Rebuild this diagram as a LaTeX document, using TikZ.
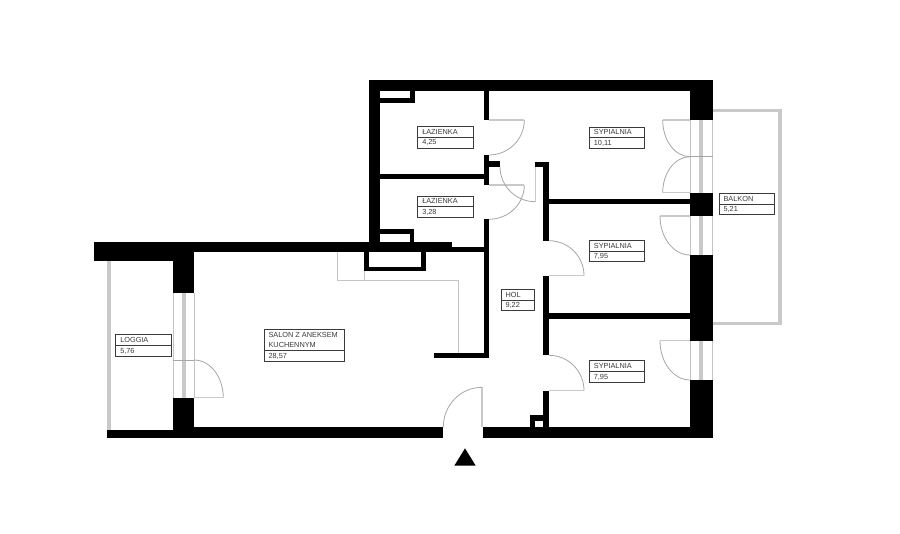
\documentclass[tikz,border=0pt]{standalone}
\usepackage{fontspec}
\setmainfont{Liberation Sans}
\definecolor{railgray}{HTML}{C9C9C9}
\definecolor{arcgray}{HTML}{A6A6A6}
\definecolor{thingray}{HTML}{C4C4C4}
\definecolor{tagink}{HTML}{3A3A3A}
\tikzset{
  wall/.style={fill=black,draw=none},
  rail/.style={fill=railgray,draw=none},
  leaf/.style={draw=railgray,line width=1.1pt},
  swing/.style={draw=arcgray,line width=0.6pt},
  thinline/.style={draw=thingray,line width=0.6pt},
  tagbox/.style={draw=tagink,line width=0.65pt,fill=white},
  tagtext/.style={anchor=west,inner sep=0pt,text=tagink,font=\fontsize{5.5}{6.6}\selectfont}
}
% quarter ellipse: starts with a vertical tangent, ends with a horizontal one
\newcommand{\swingarc}[4]{%
  \draw[swing] (#1,#2) .. controls ({#1},{#2+0.5523*(#4-#2)}) and ({#3-0.5523*(#3-#1)},{#4}) .. (#3,#4);
}
% x1 x2 ytop ydiv ybottom name value
\newcommand{\roomtag}[7]{%
  \draw[tagbox] (#1,#3) rectangle (#2,#5);
  \draw[tagbox] (#1,#4) -- (#2,#4);
  \node[tagtext] at ({#1+4.3},{(#3+#4)/2}) {#6};
  \node[tagtext] at ({#1+4.3},{(#4+#5)/2}) {#7};
}
\begin{document}
\begin{tikzpicture}[x=0.75pt,y=-0.75pt]
\useasboundingbox (0,0) rectangle (900,533);
\fill[white] (0,0) rectangle (900,533);
% balcony and loggia rails
\fill[rail] (712.7,109.3) rectangle (781.7,112.3);
\fill[rail] (778.3,109.3) rectangle (781.7,324.7);
\fill[rail] (712.7,321.7) rectangle (781.7,324.7);
\fill[rail] (107.3,261) rectangle (111,430);
% french windows, east side
\foreach \ya/\yb in {120/192.7,216/255,340.7/380}{
  \fill[rail] (699.3,\ya) rectangle (703.3,\yb);
  \draw[thinline] (690,\ya) -- (690,\yb);
  \draw[thinline] (712.4,\ya) -- (712.4,\yb);
}
\draw[swing] (690,156.7) -- (712.7,156.7);
% loggia window
\fill[rail] (181.7,293.3) rectangle (185.7,397.7);
\draw[thinline] (173,293.3) -- (173,397.7);
\draw[thinline] (194,293.3) -- (194,397.7);
\draw[swing] (173,360) -- (194,360);
% kitchen counter
\draw[thinline] (337.3,252) -- (337.3,280) -- (458.7,280) -- (458.7,353);
\draw[thinline] (364.3,271) -- (364.3,280);
% door leaves
\draw[leaf] (489,120) -- (524.3,120);
\draw[leaf] (489,185) -- (524.3,185);
\draw[leaf] (535.3,166.7) -- (535.3,201.7);
\draw[leaf] (549,275.5) -- (584,275.5);
\draw[leaf] (549,390.5) -- (584,390.5);
\draw[leaf] (482,387.3) -- (482,427);
\draw[leaf] (662.7,120) -- (690,120);
\draw[leaf] (662.7,192.7) -- (690,192.7);
\draw[leaf] (660,216) -- (690,216);
\draw[leaf] (660,340.7) -- (690,340.7);
\draw[leaf] (194,397.7) -- (223.3,397.7);
% door swings
\swingarc{524.3}{120}{489}{155}
\swingarc{524.3}{185}{489}{219.3}
\swingarc{500}{166.7}{535.3}{201.7}
\swingarc{584}{275.5}{549}{240.7}
\swingarc{584}{390.5}{549}{355.3}
\swingarc{443.3}{427}{482}{387.3}
\swingarc{662.7}{120}{690}{156.7}
\swingarc{662.7}{192.7}{690}{156.7}
\swingarc{660}{216}{690}{255}
\swingarc{660}{340.7}{690}{380}
\swingarc{223.3}{397.7}{194}{360}
% outer walls, north and east block
\fill[wall] (369,80) rectangle (712.7,90.7);
\fill[wall] (369,80) rectangle (380,242);
\fill[wall] (690,80) rectangle (712.7,120);
\fill[wall] (690,192.7) rectangle (712.7,216);
\fill[wall] (690,255) rectangle (712.7,340.7);
\fill[wall] (690,380) rectangle (712.7,437.5);
% closets in the bathrooms
\fill[wall] (380,98.3) rectangle (415,102.7);
\fill[wall] (410,90) rectangle (415,102.7);
\fill[wall] (380,229) rectangle (414.3,234);
\fill[wall] (410,229) rectangle (414.3,242);
% wall along the bathrooms
\fill[wall] (484.3,90) rectangle (489.3,120);
\fill[wall] (484.3,155) rectangle (489.3,185);
\fill[wall] (489,161) rectangle (500,166.7);
\fill[wall] (380,174) rectangle (485,179.3);
\fill[wall] (484.3,219.3) rectangle (489.3,358.3);
\fill[wall] (434,352.7) rectangle (489.3,358.3);
% living room north wall and shaft
\fill[wall] (94.3,241.5) rectangle (452,251.8);
\fill[wall] (94.3,241.5) rectangle (172.7,261);
\fill[wall] (452,247.3) rectangle (485,251.8);
\fill[wall] (172.7,241.5) rectangle (194.3,293.3);
\fill[wall] (364.3,251) rectangle (369.3,271.3);
\fill[wall] (421,251) rectangle (426,271.3);
\fill[wall] (364.3,266.7) rectangle (426,271.3);
% south wall
\fill[wall] (107.3,430) rectangle (172.7,437.5);
\fill[wall] (172.7,397.7) rectangle (194.3,437.5);
\fill[wall] (194,426.7) rectangle (443.3,437.5);
\fill[wall] (482.7,426.7) rectangle (712.7,437.5);
% hall and bedroom walls
\fill[wall] (535,161.7) rectangle (549,166.7);
\fill[wall] (543.3,161.7) rectangle (549,241);
\fill[wall] (543.3,275.7) rectangle (549,355.3);
\fill[wall] (543.3,390.7) rectangle (549,427);
\fill[wall] (549,198.7) rectangle (690,204.3);
\fill[wall] (549,313.3) rectangle (690,319);
\fill[wall] (530,415.3) rectangle (544,420.7);
\fill[wall] (530,415.3) rectangle (535,427);
% entrance mark
\fill[wall] (465,448.3) -- (475.7,465.7) -- (454.3,465.7) -- cycle;
% room tags
\roomtag{417.7}{473.3}{126.7}{137.3}{148.3}{ŁAZIENKA}{4,25}
\roomtag{417.7}{473.3}{196}{206.7}{217.3}{ŁAZIENKA}{3,28}
\roomtag{589.3}{644.7}{127}{137.7}{148.7}{SYPIALNIA}{10,11}
\roomtag{589.3}{644.7}{240}{251}{261.7}{SYPIALNIA}{7,95}
\roomtag{589.3}{644.7}{360.3}{371.7}{382.3}{SYPIALNIA}{7,95}
\roomtag{719}{774.3}{193.3}{204}{214.7}{BALKON}{5,21}
\roomtag{115.7}{171}{334.3}{345.7}{356.3}{LOGGIA}{5,76}
\roomtag{501}{534.7}{289}{300}{310.7}{HOL}{9,22}
\draw[tagbox] (264,329.3) rectangle (344.3,361.3);
\draw[tagbox] (264,350.7) -- (344.3,350.7);
\node[tagtext] (salonA) at (268.3,334.8) {SALON Z ANEKSEM};
\node[tagtext] (salonB) at (268.3,345) {KUCHENNYM};
\node[tagtext] (salonC) at (268.3,356) {28,57};
\end{tikzpicture}
\end{document}
